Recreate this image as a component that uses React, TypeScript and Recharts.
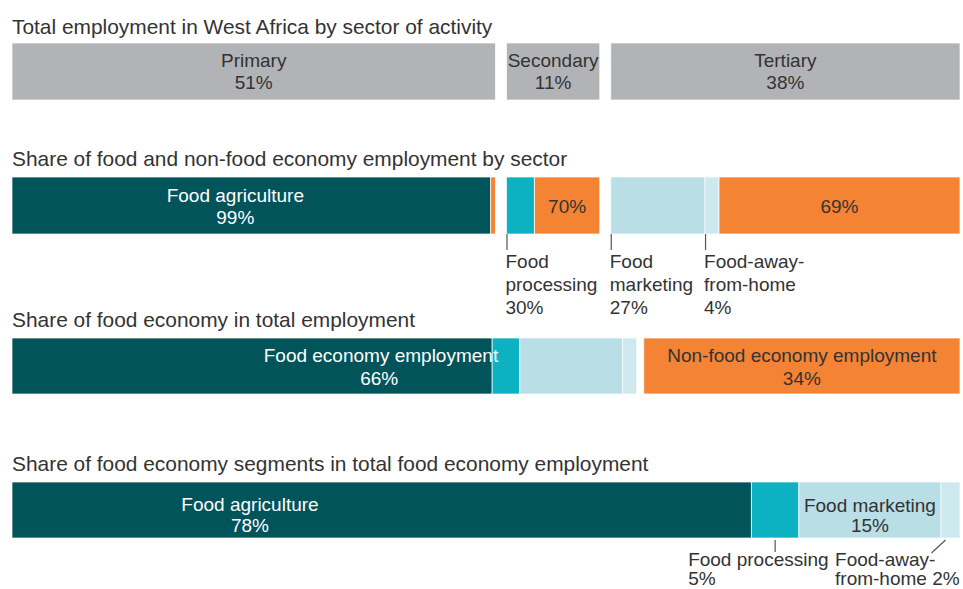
import React from 'react';
import { BarChart, Bar, XAxis, YAxis, LabelList } from 'recharts';

// ---- data ----
const sectorLabels = ['Primary', 'Secondary', 'Tertiary'];
const sectorShares = [51, 11, 38];

// share of food / non-food employment inside each sector (%)
const sectorFoodLabels = ['Food agriculture', 'Food processing', 'Food marketing', 'Food-away-from-home'];
const primaryFoodSplit = [99, 1]; // food agriculture, non-food
const secondaryFoodSplit = [30, 70]; // food processing, non-food
const tertiaryFoodSplit = [27, 4, 69]; // food marketing, food-away-from-home, non-food

// food economy in total employment (%)
const economyLabels = ['Food economy employment', 'Non-food economy employment'];
const economyShares = [66, 34];
const foodEconomyParts = [50.5, 2.9, 10.8, 1.5]; // agriculture, processing, marketing, away-from-home

// segments of the food economy (%)
const segmentLabels = ['Food agriculture', 'Food processing', 'Food marketing', 'Food-away-'];
const segmentShares = [78, 5, 15, 2];

const titles = [
  'Total employment in West Africa by sector of activity',
  'Share of food and non-food economy employment by sector',
  'Share of food economy in total employment',
  'Share of food economy segments in total food economy employment',
];

// ---- style ----
const W = 963;
const FONT = '"Liberation Sans", Arial, Helvetica, sans-serif';
const TEXT = '#333333';
const GREY = '#b2b3b6';
const DARK = '#00545a';
const TEAL = '#0db2c2';
const LIGHT = '#b9dee5';
const LIGHTER = '#cde9ee';
const ORANGE = '#f48433';
const SIZE = 19;

type Seg = { value: number; fill: string; gap?: boolean; label?: (p: any) => React.ReactNode };

const box = (p: any) => {
  const v = p.viewBox || p;
  return { x: Number(v.x), y: Number(v.y), w: Number(v.width), h: Number(v.height) };
};

const txt = (x: number, y: number, s: string, fill = TEXT, anchor: 'start' | 'middle' | 'end' = 'middle') => (
  <text x={x} y={y} textAnchor={anchor} fill={fill} fontSize={SIZE} fontFamily={FONT}>
    {s}
  </text>
);

const twoLine = (a: string, b: string, fill: string, dy1: number, dy2: number, cxFn?: (x: number, w: number) => number) => (p: any) => {
  const { x, y, w, h } = box(p);
  const cx = cxFn ? cxFn(x, w) : x + w / 2;
  const cy = y + h / 2;
  return (
    <g>
      {txt(cx, cy + dy1, a, fill)}
      {txt(cx, cy + dy2, b, fill)}
    </g>
  );
};

const oneLine = (a: string, fill: string) => (p: any) => {
  const { x, y, w, h } = box(p);
  return txt(x + w / 2, y + h / 2 + 7, a, fill);
};

// leader from left edge of a segment with stacked text beneath
const leftNote = (lines: string[]) => (p: any) => {
  const { x, y, h } = box(p);
  const b = y + h;
  return (
    <g>
      <line x1={x + 0.5} y1={b} x2={x + 0.5} y2={b + 16} stroke="#555" strokeWidth={1.2} />
      {lines.map((l, i) => (
        <React.Fragment key={i}>{txt(x - 1, b + 34 + i * 23, l, TEXT, 'start')}</React.Fragment>
      ))}
    </g>
  );
};

function Row({ top, barH, bottom = 0, segs }: { top: number; barH: number; bottom?: number; segs: Seg[] }) {
  const datum: Record<string, number | string> = { name: 'row' };
  segs.forEach((s, i) => (datum['s' + i] = s.value));
  const total = segs.reduce((a, s) => a + s.value, 0);
  return (
    <div style={{ position: 'absolute', left: 0, top }}>
      <BarChart
        width={W}
        height={barH + bottom}
        data={[datum]}
        layout="vertical"
        margin={{ top: 0, right: 3, bottom, left: 12 }}
        barCategoryGap={0}
      >
        <XAxis type="number" hide domain={[0, total]} />
        <YAxis type="category" dataKey="name" hide />
        {segs.map((s, i) => (
          <Bar
            key={i}
            dataKey={'s' + i}
            stackId="a"
            fill={s.gap ? 'transparent' : s.fill}
            stroke={s.gap ? 'none' : 'rgba(255,255,255,0.7)'}
            strokeWidth={1}
            isAnimationActive={false}
          >
            {s.label && <LabelList dataKey={'s' + i} content={s.label} />}
          </Bar>
        ))}
      </BarChart>
    </div>
  );
}

// white space between sector blocks, taken out of the following block (in % units)
const GAP1 = 1.16;
const GAP3 = 0.74;

const pct = (v: number) => `${v}%`;
// drawn width of each sector block once the gap before it is removed
const sectorDrawn = sectorShares.map((v, i) => (i === 0 ? v : v - GAP1));
const part = (sector: number, share: number) => (sectorDrawn[sector] * share) / 100;

const row1: Seg[] = [
  { value: sectorDrawn[0], fill: GREY, label: twoLine(sectorLabels[0], pct(sectorShares[0]), TEXT, -4.5, 17.5) },
  { value: GAP1, fill: 'none', gap: true },
  { value: sectorDrawn[1], fill: GREY, label: twoLine(sectorLabels[1], pct(sectorShares[1]), TEXT, -4.5, 17.5) },
  { value: GAP1, fill: 'none', gap: true },
  { value: sectorDrawn[2], fill: GREY, label: twoLine(sectorLabels[2], pct(sectorShares[2]), TEXT, -4.5, 17.5) },
];

const row2: Seg[] = [
  {
    value: part(0, primaryFoodSplit[0]),
    fill: DARK,
    label: twoLine(sectorFoodLabels[0], pct(primaryFoodSplit[0]), '#ffffff', -4, 18, (x, w) => x + w / 2 - 16),
  },
  { value: part(0, primaryFoodSplit[1]), fill: ORANGE },
  { value: GAP1, fill: 'none', gap: true },
  { value: part(1, secondaryFoodSplit[0]), fill: TEAL, label: leftNote(['Food', 'processing', pct(secondaryFoodSplit[0])]) },
  { value: part(1, secondaryFoodSplit[1]), fill: ORANGE, label: oneLine(pct(secondaryFoodSplit[1]), TEXT) },
  { value: GAP1, fill: 'none', gap: true },
  { value: part(2, tertiaryFoodSplit[0]), fill: LIGHT, label: leftNote(['Food', 'marketing', pct(tertiaryFoodSplit[0])]) },
  { value: part(2, tertiaryFoodSplit[1]), fill: LIGHTER, label: leftNote(['Food-away-', 'from-home', pct(tertiaryFoodSplit[1])]) },
  { value: part(2, tertiaryFoodSplit[2]), fill: ORANGE, label: oneLine(pct(tertiaryFoodSplit[2]), TEXT) },
];

const foodEconomyLabel = (p: any) => {
  const { x, y, h } = box(p);
  const cy = y + h / 2;
  return (
    <g>
      {txt(x + 6, cy - 4, economyLabels[0], '#ffffff', 'end')}
      {txt(x - 113, cy + 18.5, pct(economyShares[0]), '#ffffff')}
    </g>
  );
};

const row3: Seg[] = [
  { value: foodEconomyParts[0], fill: DARK },
  { value: foodEconomyParts[1], fill: TEAL, label: foodEconomyLabel },
  { value: foodEconomyParts[2], fill: LIGHT },
  { value: foodEconomyParts[3], fill: LIGHTER },
  { value: GAP3, fill: 'none', gap: true },
  { value: economyShares[1] - GAP3, fill: ORANGE, label: twoLine(economyLabels[1], pct(economyShares[1]), TEXT, -4, 18.5) },
];

const processingNote = (p: any) => {
  const { x, y, w, h } = box(p);
  const cx = x + w / 2;
  const b = y + h;
  return (
    <g>
      <line x1={cx} y1={b + 2} x2={cx} y2={b + 14} stroke="#555" strokeWidth={1.2} />
      {txt(cx - 87, b + 28, segmentLabels[1], TEXT, 'start')}
      {txt(cx - 87, b + 47, pct(segmentShares[1]), TEXT, 'start')}
    </g>
  );
};

const awayNote = (p: any) => {
  const { x, y, w, h } = box(p);
  const cx = x + w / 2;
  const b = y + h;
  return (
    <g>
      <line x1={cx - 5} y1={b + 2} x2={cx - 19} y2={b + 15} stroke="#555" strokeWidth={1.2} />
      {txt(x - 106, b + 28, segmentLabels[3], TEXT, 'start')}
      {txt(x - 106, b + 47, `from-home ${pct(segmentShares[3])}`, TEXT, 'start')}
    </g>
  );
};

const row4: Seg[] = [
  {
    value: segmentShares[0],
    fill: DARK,
    label: twoLine(segmentLabels[0], pct(segmentShares[0]), '#ffffff', 1, 22, (x) => x + 238),
  },
  { value: segmentShares[1], fill: TEAL, label: processingNote },
  { value: segmentShares[2], fill: LIGHT, label: twoLine(segmentLabels[2], pct(segmentShares[2]), TEXT, 2, 22) },
  { value: segmentShares[3], fill: LIGHTER, label: awayNote },
];

const titleTops = [15, 147, 308, 452];

export default function App() {
  return (
    <div style={{ position: 'absolute', left: 0, top: 0, width: W, height: 589, background: '#fff', overflow: 'hidden' }}>
      {titles.map((t, i) => (
        <div
          key={i}
          style={{
            position: 'absolute',
            left: 12,
            top: titleTops[i],
            fontFamily: FONT,
            fontSize: 20.9,
            lineHeight: '24px',
            color: TEXT,
            whiteSpace: 'nowrap',
          }}
        >
          {t}
        </div>
      ))}
      <Row top={43} barH={57} segs={row1} />
      <Row top={177} barH={57} bottom={145} segs={row2} />
      <Row top={338} barH={56} segs={row3} />
      <Row top={482} barH={56} bottom={51} segs={row4} />
    </div>
  );
}
